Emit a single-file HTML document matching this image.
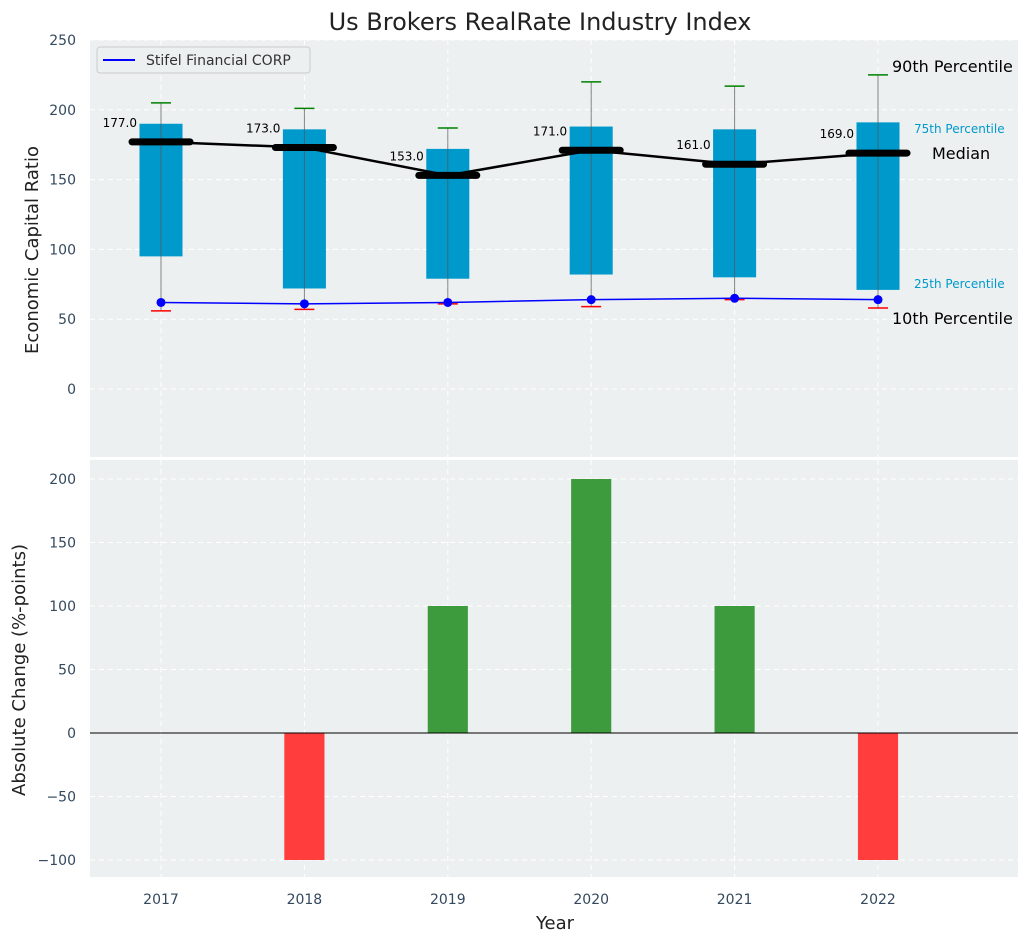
<!DOCTYPE html>
<html><head><meta charset="utf-8"><style>
body{margin:0;background:#fff;font-family:"Liberation Sans","DejaVu Sans",sans-serif}
svg text{font-family:"DejaVu Sans","Liberation Sans",sans-serif}
</style></head><body>
<svg id="c" width="1029" height="942" xmlns="http://www.w3.org/2000/svg"></svg>
<script>
const years=[2017,2018,2019,2020,2021,2022];
const p10=[56,57,61,59,64,58];
const p25=[95,72,79,82,80,71];
const med=[177,173,153,171,161,169];
const p75=[190,186,172,188,186,191];
const p90=[205,201,187,220,217,225];
const stifel=[62,61,62,64,65,64];
const change=[0,-100,100,200,100,-100];
const topTicks=[0,50,100,150,200,250];
const botTicks=[-100,-50,0,50,100,150,200];

const NS="http://www.w3.org/2000/svg";
const svg=document.getElementById('c');
function el(t,a,p){const e=document.createElementNS(NS,t);for(const k in a)e.setAttribute(k,a[k]);(p||svg).appendChild(e);return e;}
const L=90,R=1018;
const x=v=>161+(v-2017)*143.4;
const T0=40,T1=457, y1=v=>389-v*1.396;
const B0=460,B1=877, y2=v=>733-v*1.27;

let t=el('text',{x:540,y:30,'font-size':24,'text-anchor':'middle',fill:'#222'});t.textContent='Us Brokers RealRate Industry Index';


let g=el('rect',{x:L,y:T0,width:R-L,height:T1-T0,fill:'#ecf0f1'});

g=el('rect',{x:L,y:B0,width:R-L,height:B1-B0,fill:'#ecf0f1'});


years.forEach(yr=>{
 el('line',{x1:x(yr),x2:x(yr),y1:T0,y2:T1,stroke:'#fff','stroke-dasharray':'5,4','stroke-width':1});
 el('line',{x1:x(yr),x2:x(yr),y1:B0,y2:B1,stroke:'#fff','stroke-dasharray':'5,4','stroke-width':1});
 let tx=el('text',{x:x(yr),y:904,'font-size':14,'text-anchor':'middle',fill:'#34495e'});tx.textContent=yr;
 
});
topTicks.forEach(v=>{
 el('line',{x1:L,x2:R,y1:y1(v),y2:y1(v),stroke:'#fff','stroke-dasharray':'5,4'});
 let tx=el('text',{x:76,y:y1(v)+5,'font-size':14,'text-anchor':'end',fill:'#34495e'});tx.textContent=v;
 
});
botTicks.forEach(v=>{
 el('line',{x1:L,x2:R,y1:y2(v),y2:y2(v),stroke:'#fff','stroke-dasharray':'5,4'});
 let tx=el('text',{x:76,y:y2(v)+5,'font-size':14,'text-anchor':'end',fill:'#34495e'});tx.textContent=v<0?'\u2212'+(-v):v;
 
});

const bw=0.15*143.4;
years.forEach((yr,i)=>{
 let b=el('rect',{x:x(yr)-bw,y:y1(p75[i]),width:2*bw,height:y1(p25[i])-y1(p75[i]),fill:'#0099cc'});
 
 el('line',{x1:x(yr),x2:x(yr),y1:y1(p90[i]),y2:y1(p10[i]),stroke:'#555','stroke-width':1,opacity:0.7});
 el('line',{x1:x(yr)-10,x2:x(yr)+10,y1:y1(p90[i]),y2:y1(p90[i]),stroke:'green','stroke-width':1.5});
 el('line',{x1:x(yr)-10,x2:x(yr)+10,y1:y1(p10[i]),y2:y1(p10[i]),stroke:'red','stroke-width':1.5});
});
el('polyline',{points:years.map((yr,i)=>x(yr)+','+y1(med[i])).join(' '),fill:'none',stroke:'#000','stroke-width':2.5});
years.forEach((yr,i)=>{
 let m=el('line',{x1:x(yr)-29,x2:x(yr)+29,y1:y1(med[i]),y2:y1(med[i]),stroke:'#000','stroke-width':7,'stroke-linecap':'round'});
 
 let tx=el('text',{x:x(yr)-24,y:y1(med[i])-15,'font-size':12,'text-anchor':'end',fill:'#000'});tx.textContent=med[i].toFixed(1);
 
});
let sl=el('polyline',{points:years.map((yr,i)=>x(yr)+','+y1(stifel[i])).join(' '),fill:'none',stroke:'blue','stroke-width':1.5});

years.forEach((yr,i)=>{let c=el('circle',{cx:x(yr),cy:y1(stifel[i]),r:4.5,fill:'blue'});
 });

const lab=[[892,72,'90th Percentile',16,'#000'],[914,133,'75th Percentile',12,'#0099cc'],[932,159,'Median',16,'#000'],[914,288,'25th Percentile',12,'#0099cc'],[892,324,'10th Percentile',16,'#000']];
lab.forEach(l=>{let tx=el('text',{x:l[0],y:l[1],'font-size':l[3],fill:l[4]});tx.textContent=l[2];
 });

let lg=el('rect',{x:97,y:47,width:213,height:26,rx:3,fill:'#ecf0f1',stroke:'#ccc'});

el('line',{x1:103,x2:135,y1:60,y2:60,stroke:'blue','stroke-width':2});
t=el('text',{x:146,y:65,'font-size':14,fill:'#333'});t.textContent='Stifel Financial CORP';


const barw=0.14*143.4;
years.forEach((yr,i)=>{
 const v=change[i];if(v===0)return;
 let b=el('rect',{x:x(yr)-barw,y:Math.min(y2(v),y2(0)),width:2*barw,height:Math.abs(y2(v)-y2(0)),fill:v>0?'#3d9b3d':'#ff3d3d'});
 
});
el('line',{x1:L,x2:R,y1:y2(0),y2:y2(0),stroke:'#000','stroke-width':1});

t=el('text',{x:555,y:929,'font-size':18,'text-anchor':'middle',fill:'#222'});t.textContent='Year';

t=el('text',{x:0,y:0,'font-size':18,'text-anchor':'middle',fill:'#222',transform:'translate(38,250) rotate(-90)'});t.textContent='Economic Capital Ratio';

t=el('text',{x:0,y:0,'font-size':18,'text-anchor':'middle',fill:'#222',transform:'translate(25,670) rotate(-90)'});t.textContent='Absolute Change (%-points)';

</script>
</body></html>
